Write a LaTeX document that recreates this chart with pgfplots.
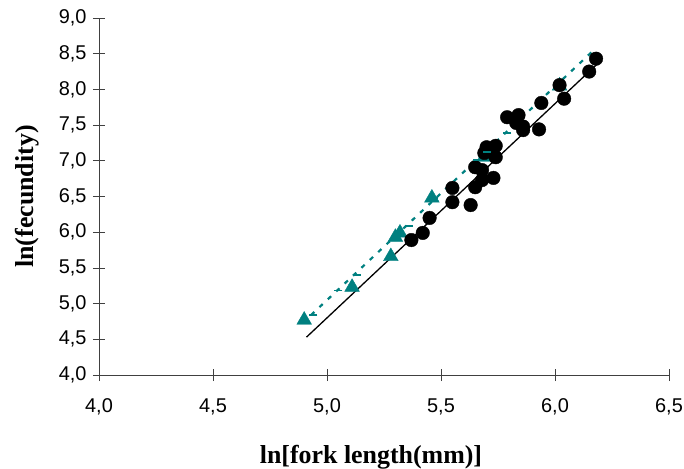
\documentclass[border=0pt]{standalone}
\usepackage{pgfplots}
\pgfplotsset{compat=1.18}
\usepackage{fontspec}
\setmainfont{Liberation Serif}
\newfontfamily\arial{Liberation Sans}
\definecolor{tealc}{RGB}{0,128,128}
\begin{document}
\begin{tikzpicture}
\useasboundingbox (-99bp,-94bp) rectangle (585bp,375bp);
\begin{axis}[
  scale only axis, width=570bp, height=357bp,
  xmin=4, xmax=6.5, ymin=4, ymax=9,
  axis lines*=left,
  axis line style={line width=0.8bp, color=black!75},
  xtick={4,4.5,5,5.5,6,6.5}, ytick={4,4.5,5,5.5,6,6.5,7,7.5,8,8.5,9},
  tick align=center, major tick length=12bp,
  tick style={line width=0.8bp, color=black!75},
  /pgf/number format/assume math mode=true,
  /pgf/number format/.cd, use comma, fixed, fixed zerofill, precision=1, /pgfplots/.cd,
  ticklabel style={font=\arial\fontsize{20}{24}\selectfont},
  xticklabel style={yshift=-14bp},
  yticklabel style={xshift=-3bp},
  xlabel={\textbf{ln[fork length(mm)]}},
  ylabel={\textbf{ln(fecundity)}},
  label style={font=\fontsize{26}{30}\selectfont},
  xlabel style={at={(rel axis cs:0.5,0)}, anchor=center, yshift=-82bp, xshift=-13bp},
  ylabel style={at={(rel axis cs:0,0.5)}, anchor=center, yshift=72bp},
  clip=false,
]
% triangles
\addplot[only marks, mark=triangle*, mark size=8.5bp, color=tealc, fill=tealc] coordinates {
(4.90,4.77) (5.11,5.23) (5.28,5.66) (5.30,5.93) (5.32,5.99) (5.46,6.48)
(5.69,7.05) (5.84,7.55) (6.02,8.05)
};
% circles
\addplot[only marks, mark=*, mark size=6.8bp, color=black, fill=black] coordinates {
(6.18,8.43) (6.15,8.25) (6.02,8.06) (6.04,7.87) (5.94,7.81) (5.93,7.44)
(5.79,7.61) (5.84,7.64) (5.83,7.53) (5.86,7.43) (5.86,7.48)
(5.70,7.19) (5.74,7.21) (5.74,7.05) (5.69,7.11)
(5.65,6.91) (5.68,6.87) (5.73,6.76) (5.65,6.63) (5.68,6.73)
(5.55,6.62) (5.55,6.42) (5.63,6.38)
(5.45,6.20) (5.42,5.99) (5.37,5.89)
};
% black fitted line
\addplot[black, line width=1.3bp] coordinates {(4.91,4.53) (6.20,8.40)};
% teal fitted line
\addplot[tealc, line width=2.2bp, dash pattern=on 4.5bp off 7bp] coordinates {(4.93,4.84) (6.17,8.55)};
\addplot[only marks, mark=-, mark size=4bp, color=tealc, mark options={line width=1.5bp}] coordinates {
(4.94,4.84) (5.05,5.18) (5.13,5.40) (5.36,6.09) (5.47,6.48) (5.66,7.01) (5.70,7.12) (5.79,7.39)
};
\end{axis}
\end{tikzpicture}
\end{document}
